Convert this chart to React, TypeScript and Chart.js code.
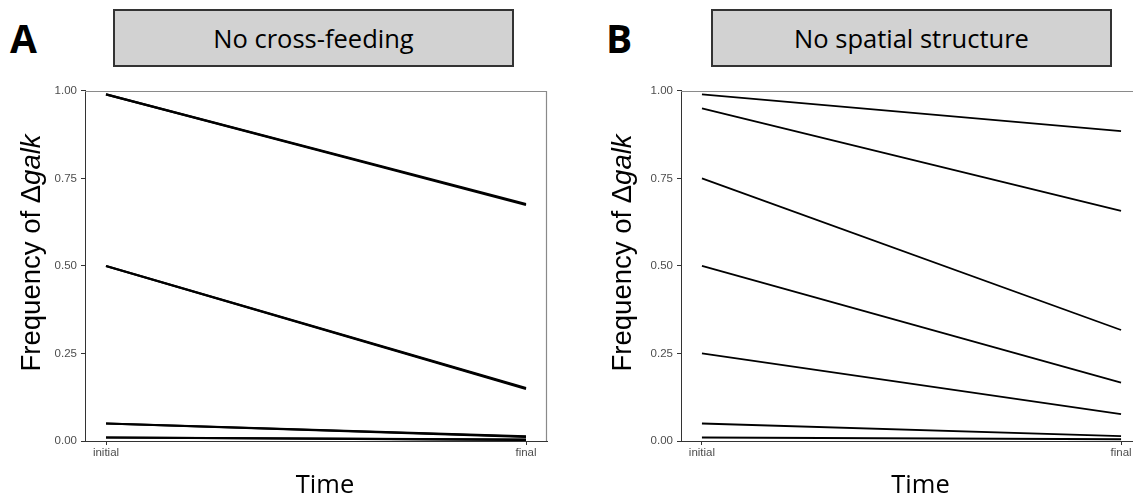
import React, { useEffect, useRef } from 'react';
import { Chart, registerables } from 'chart.js';

Chart.register(...registerables);

// ---- data ----
const timeLabels = ['initial', 'final'];
const timeValues = [0, 1];
const yTickValues = [0, 0.25, 0.5, 0.75, 1];

const panelLetters = ['A', 'B'];
const panelTitles = ['No cross-feeding', 'No spatial structure'];
const yTitleMain = 'Frequency of Δ';
const yTitleItalic = 'galk';
const xTitle = 'Time';

// Panel A: No cross-feeding (replicate lines, overlapping)
const noCrossInitial = [0.99, 0.99, 0.5, 0.5, 0.05, 0.05, 0.01, 0.01];
const noCrossFinal = [0.674, 0.677, 0.149, 0.151, 0.013, 0.012, 0.004, 0.003];

// Panel B: No spatial structure
const noSpatialInitial = [0.99, 0.95, 0.75, 0.5, 0.25, 0.05, 0.01];
const noSpatialFinal = [0.885, 0.657, 0.317, 0.167, 0.077, 0.014, 0.005];

const TICK_FONT = { family: "'Liberation Sans', Arial, sans-serif", size: 11.5 };
const TITLE_FAMILY = "'Liberation Sans', Arial, sans-serif";
const TITLE_SIZE = 27.5;
const XTITLE_FONT = "25.5px 'Open Sans', sans-serif";
const CANVAS_H = 417;
const CANVAS_TOP = 80;

const framePlugin = {
  id: 'frameBorder',
  afterDatasetsDraw(chart: any) {
    const { ctx, chartArea } = chart;
    const t = Math.round(chartArea.top) + 0.5;
    const r = Math.round(chartArea.right) - 0.5;
    const b = Math.round(chartArea.bottom);
    const l = Math.round(chartArea.left);
    ctx.save();
    ctx.strokeStyle = '#8a8a8a';
    ctx.lineWidth = 1.2;
    ctx.beginPath();
    ctx.moveTo(l, t);
    ctx.lineTo(r, t);
    ctx.lineTo(r, b);
    ctx.stroke();
    ctx.restore();
  },
};

function makeTitlesPlugin(cx: number) {
  return {
    id: 'axisTitles',
    afterDraw(chart: any) {
      const { ctx, chartArea } = chart;
      // y-axis title with italic gene name
      const cy = (chartArea.top + chartArea.bottom) / 2 - 13;
      ctx.save();
      ctx.translate(cx, cy);
      ctx.rotate(-Math.PI / 2);
      ctx.fillStyle = '#000';
      ctx.textBaseline = 'middle';
      ctx.textAlign = 'left';
      const fNormal = `${TITLE_SIZE}px ${TITLE_FAMILY}`;
      const fItalic = `italic ${TITLE_SIZE}px ${TITLE_FAMILY}`;
      ctx.font = fNormal;
      const w1 = ctx.measureText(yTitleMain).width;
      ctx.font = fItalic;
      const w2 = ctx.measureText(yTitleItalic).width;
      const start = -(w1 + w2) / 2;
      ctx.font = fNormal;
      ctx.fillText(yTitleMain, start, 0);
      ctx.font = fItalic;
      ctx.fillText(yTitleItalic, start + w1, 0);
      ctx.restore();

      // x-axis title
      ctx.save();
      ctx.fillStyle = '#000';
      ctx.font = XTITLE_FONT;
      ctx.textAlign = 'center';
      ctx.textBaseline = 'alphabetic';
      ctx.fillText(xTitle, (chartArea.left + chartArea.right) / 2 + 9, 493 - CANVAS_TOP);
      ctx.restore();
    },
  };
}

type PanelProps = {
  initial: number[];
  final: number[];
  canvasLeft: number;
  canvasWidth: number;
  yAxisWidth: number;
  padRight: number;
  lineWidth: number;
  yTitleX: number;
};

function LinePanel(props: PanelProps) {
  const ref = useRef<HTMLCanvasElement>(null);
  useEffect(() => {
    const { initial, final, yAxisWidth, padRight, lineWidth, yTitleX } = props;
    const datasets = initial.map((v, i) => ({
      data: [
        { x: timeValues[0], y: v },
        { x: timeValues[1], y: final[i] },
      ],
      borderColor: '#000',
      backgroundColor: '#000',
      borderWidth: lineWidth,
      pointRadius: 0,
      fill: false,
      tension: 0,
    }));
    const chart = new Chart(ref.current as HTMLCanvasElement, {
      type: 'line',
      data: { datasets },
      options: {
        responsive: false,
        animation: false,
        devicePixelRatio: 1,
        layout: { padding: { left: 0, right: padRight, top: 9.5, bottom: 0 } },
        plugins: { legend: { display: false }, tooltip: { enabled: false } },
        scales: {
          x: {
            type: 'linear',
            min: -0.05,
            max: 1.05,
            afterBuildTicks: (s: any) => {
              s.ticks = timeValues.map((v) => ({ value: v }));
            },
            afterFit: (s: any) => {
              s.height = CANVAS_H - 361;
            },
            ticks: {
              callback: (_v: any, i: number) => timeLabels[i],
              font: TICK_FONT,
              color: '#4d4d4d',
              padding: 1,
              maxRotation: 0,
              autoSkip: false,
            },
            grid: { drawOnChartArea: false, drawTicks: true, tickLength: 4, color: '#333' },
            border: { display: true, color: '#333', width: 1 },
          },
          y: {
            type: 'linear',
            min: 0,
            max: 1,
            afterBuildTicks: (s: any) => {
              s.ticks = yTickValues.map((v) => ({ value: v }));
            },
            afterFit: (s: any) => {
              s.width = yAxisWidth;
            },
            ticks: {
              callback: (v: any) => Number(v).toFixed(2),
              font: TICK_FONT,
              color: '#4d4d4d',
              padding: 4,
            },
            grid: { drawOnChartArea: false, drawTicks: true, tickLength: 4, color: '#333' },
            border: { display: true, color: '#333', width: 1 },
          },
        },
      } as any,
      plugins: [framePlugin, makeTitlesPlugin(yTitleX)],
    });
    return () => chart.destroy();
  }, []);
  return (
    <canvas
      ref={ref}
      width={props.canvasWidth}
      height={CANVAS_H}
      style={{
        position: 'absolute',
        left: props.canvasLeft,
        top: CANVAS_TOP,
        width: props.canvasWidth,
        height: CANVAS_H,
      }}
    />
  );
}

function Letter({ text, left }: { text: string; left: number }) {
  return (
    <div
      style={{
        position: 'absolute',
        left,
        top: 18,
        fontFamily: "'Open Sans', sans-serif",
        fontWeight: 700,
        fontSize: 39,
        lineHeight: '39px',
        color: '#000',
      }}
    >
      {text}
    </div>
  );
}

function TitleBox({ text, left }: { text: string; left: number }) {
  return (
    <div
      style={{
        position: 'absolute',
        left,
        top: 9,
        width: 401,
        height: 58,
        boxSizing: 'border-box',
        border: '2px solid #333',
        background: '#d2d2d2',
        display: 'flex',
        alignItems: 'center',
        justifyContent: 'center',
        fontFamily: "'Open Sans', sans-serif",
        fontSize: 25.5,
        color: '#000',
      }}
    >
      {text}
    </div>
  );
}

export default function App() {
  useEffect(() => {
    document.body.style.margin = '0';
  }, []);
  return (
    <div
      style={{
        position: 'absolute',
        left: 0,
        top: 0,
        width: 1133,
        height: 497,
        overflow: 'hidden',
        background: '#fff',
      }}
    >
      <Letter text={panelLetters[0]} left={10} />
      <Letter text={panelLetters[1]} left={606} />
      <TitleBox text={panelTitles[0]} left={113} />
      <TitleBox text={panelTitles[1]} left={711} />
      <LinePanel
        initial={noCrossInitial}
        final={noCrossFinal}
        canvasLeft={0}
        canvasWidth={560}
        yAxisWidth={85}
        padRight={13}
        lineWidth={2.2}
        yTitleX={32}
      />
      <LinePanel
        initial={noSpatialInitial}
        final={noSpatialFinal}
        canvasLeft={560}
        canvasWidth={600}
        yAxisWidth={121}
        padRight={18}
        lineWidth={1.8}
        yTitleX={63}
      />
    </div>
  );
}
